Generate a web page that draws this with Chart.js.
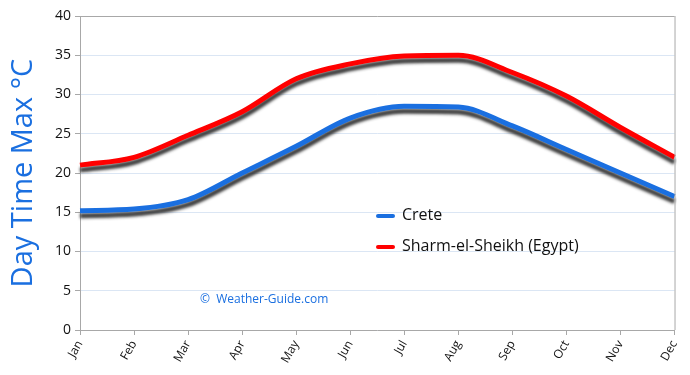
<!DOCTYPE html>
<html>
<head>
<meta charset="utf-8">
<script src="https://cdn.jsdelivr.net/npm/chart.js@4"></script>
<style>
  body { margin: 0; background: #fff; }
  #wrap { width: 690px; height: 375px; }
</style>
</head>
<body>
<div id="wrap"><canvas id="tempChart"></canvas></div>
<script>
const months = ['Jan', 'Feb', 'Mar', 'Apr', 'May', 'Jun', 'Jul', 'Aug', 'Sep', 'Oct', 'Nov', 'Dec'];
const crete = [15.2, 15.4, 16.6, 20, 23.4, 27, 28.5, 28.4, 26, 23, 20, 17];
const sharm = [21, 22, 24.8, 27.8, 32, 33.9, 34.9, 35, 32.8, 29.8, 25.8, 22];
const seriesNames = ['Crete', 'Sharm-el-Sheikh (Egypt)'];
const seriesColors = ['#1a6fe0', '#ff0000'];

const axisGrey = '#a8a8a8';
const gridBlue = '#dbe6f4';
const fontFamily = "'Open Sans', 'DejaVu Sans', sans-serif";

// shadow under each line
const lineShadow = {
  id: 'lineShadow',
  beforeDatasetDraw(chart) {
    const ctx = chart.ctx;
    ctx.save();
    ctx.shadowColor = 'rgba(40,40,40,0.9)';
    ctx.shadowBlur = 3;
    ctx.shadowOffsetX = 0;
    ctx.shadowOffsetY = 5;
  },
  afterDatasetDraw(chart) {
    chart.ctx.restore();
  }
};

// right border, legend and watermark drawn on top
const extras = {
  id: 'extras',
  afterDraw(chart) {
    const ctx = chart.ctx;
    const area = chart.chartArea;
    ctx.save();
    ctx.strokeStyle = axisGrey;
    ctx.lineWidth = 1;
    ctx.beginPath();
    ctx.moveTo(area.right + 0.5, area.top);
    ctx.lineTo(area.right + 0.5, area.bottom);
    ctx.stroke();

    // legend
    ctx.font = '16px ' + fontFamily;
    ctx.textBaseline = 'middle';
    chart.data.datasets.forEach((ds, i) => {
      const y = 216 + i * 31;
      ctx.strokeStyle = ds.borderColor;
      ctx.lineWidth = 4;
      ctx.lineCap = 'round';
      ctx.beginPath();
      ctx.moveTo(378, y);
      ctx.lineTo(393, y);
      ctx.stroke();
      ctx.fillStyle = '#111';
      ctx.fillText(ds.label, 402, y - 1);
    });

    // watermark
    ctx.font = '12px ' + fontFamily;
    ctx.fillStyle = '#1a6fe0';
    ctx.fillText('\u00A9  Weather-Guide.com', 200, 300);
    ctx.restore();
  }
};

new Chart(document.getElementById('tempChart'), {
  type: 'line',
  data: {
    labels: months,
    datasets: [
      {
        label: seriesNames[0],
        data: crete,
        borderColor: seriesColors[0],
        borderWidth: 5,
        pointRadius: 0,
        cubicInterpolationMode: 'monotone',
        fill: false
      },
      {
        label: seriesNames[1],
        data: sharm,
        borderColor: seriesColors[1],
        borderWidth: 5,
        pointRadius: 0,
        cubicInterpolationMode: 'monotone',
        fill: false
      }
    ]
  },
  options: {
    responsive: true,
    maintainAspectRatio: false,
    animation: false,
    layout: { padding: { top: 16, right: 13, left: 6, bottom: 0 } },
    plugins: {
      legend: { display: false },
      tooltip: { enabled: false }
    },
    scales: {
      x: {
        offset: false,
        grid: { drawOnChartArea: false, tickColor: axisGrey, tickLength: 5 },
        border: { color: axisGrey },
        ticks: {
          color: '#111',
          font: { size: 12, family: fontFamily },
          minRotation: 60,
          maxRotation: 60,
          padding: 3
        },
        afterFit(scale) { scale.height = 45; }
      },
      y: {
        min: 0,
        max: 40,
        ticks: {
          stepSize: 5,
          color: '#111',
          font: { size: 14, family: fontFamily },
          padding: 4
        },
        grid: {
          color: (c) => (c.tick && c.tick.value === 40 ? axisGrey : gridBlue),
          tickColor: axisGrey,
          tickLength: 5
        },
        border: { color: axisGrey },
        title: {
          display: true,
          text: 'Day Time Max \u00B0C',
          color: '#1a6fe0',
          font: { size: 29, family: fontFamily },
          padding: { top: 0, bottom: 4 }
        },
        afterFit(scale) { scale.width = 74; }
      }
    }
  },
  plugins: [lineShadow, extras]
});
</script>
</body>
</html>
